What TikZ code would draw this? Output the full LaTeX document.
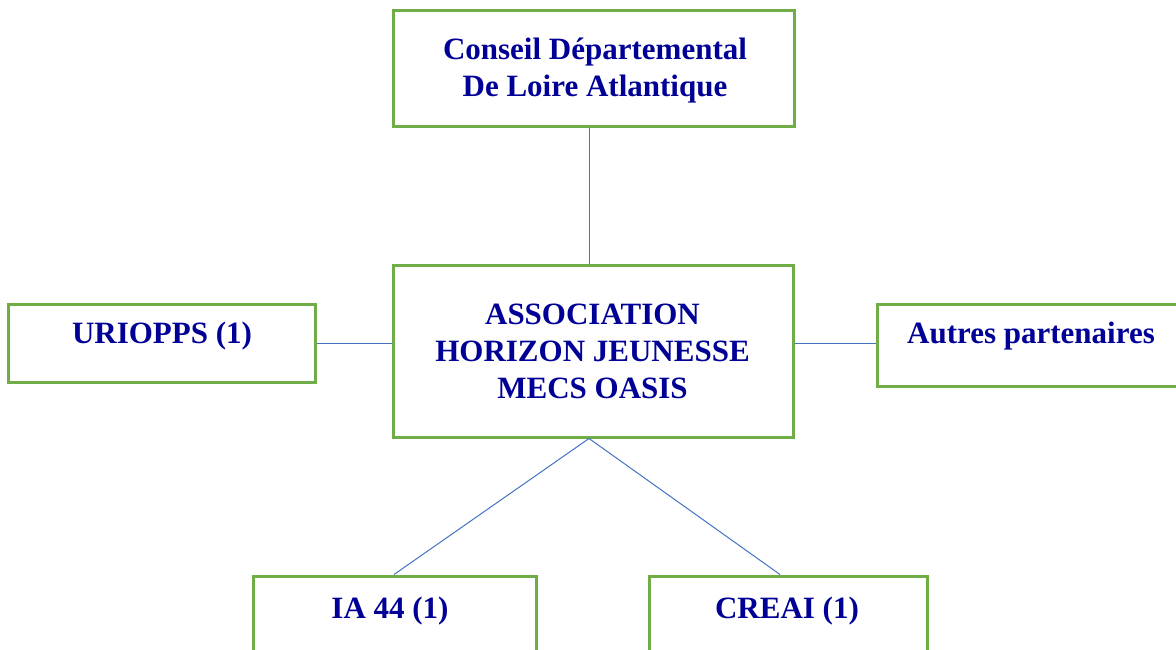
\documentclass[tikz,border=0pt]{standalone}
\usepackage{fontspec}
\setmainfont{Liberation Serif}
\definecolor{boxgreen}{RGB}{112,173,71}
\definecolor{linkblue}{RGB}{68,114,196}
\definecolor{txtblue}{RGB}{0,0,150}
\begin{document}
\begin{tikzpicture}[x=1pt,y=-1pt,
  box/.style={draw=boxgreen,line width=3pt,fill=white,rectangle,inner sep=0pt},
  lbl/.style={text=txtblue,font=\fontsize{31}{37}\selectfont\bfseries,align=center,anchor=base,inner sep=0pt},
  link/.style={draw=linkblue,line width=1pt}]
\useasboundingbox (0,0) rectangle (1176,650);
\clip (0,0) rectangle (1176,650);
% reference coordinates
\coordinate (cx) at (589,0);
\coordinate (cy) at (0,343);
\coordinate (iax) at (394,0);
\coordinate (crx) at (780,0);
% boxes
\node[box,minimum width=401pt,minimum height=116pt] (top) at (593.5,69) {};
\node[box,minimum width=400pt,minimum height=172pt] (cen) at (593,351) {};
\node[box,minimum width=307pt,minimum height=78pt] (left) at (161.5,343) {};
\node[box,minimum width=313pt,minimum height=82pt] (right) at (1033.5,345) {};
\node[box,minimum width=283pt,minimum height=104pt] (ia) at (394.5,628) {};
\node[box,minimum width=278pt,minimum height=104pt] (cr) at (788,628) {};
% connectors
\draw[link] (top.south -| cx) -- (cen.north -| cx);
\draw[link] (left.east |- cy) -- (cen.west |- cy);
\draw[link] (cen.east |- cy) -- (right.west |- cy);
\draw[link] (cen.south -| cx) -- (ia.north -| iax);
\draw[link] (cen.south -| cx) -- (cr.north -| crx);
% texts
\node[lbl] (ttop) at (595,97) {Conseil Départemental\\De Loire Atlantique};
\node[lbl] (tcen) at (592.5,398) {ASSOCIATION\\HORIZON JEUNESSE\\MECS OASIS};
\node[lbl] (tleft) at (162,343) {URIOPPS (1)};
\node[lbl] (tright) at (1031,343) {Autres partenaires};
\node[lbl] (tia) at (390,618) {IA 44 (1)};
\node[lbl] (tcr) at (787,618) {CREAI (1)};
\end{tikzpicture}
\end{document}
